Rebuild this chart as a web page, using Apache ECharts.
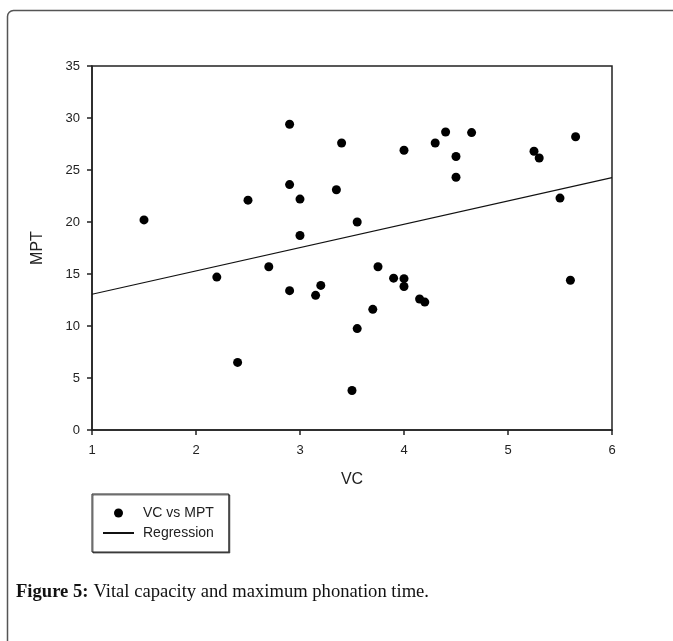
<!DOCTYPE html>
<html><head><meta charset="utf-8">
<script src="https://cdn.jsdelivr.net/npm/echarts@6/dist/echarts.min.js"></script>
<style>html,body{margin:0;padding:0;background:#fff;}#c{width:673px;height:641px;}</style>
</head><body><div id="c"></div>
<script>
const vc  = [1.5, 2.2, 2.4, 2.5, 2.7, 2.9, 2.9, 2.9, 3.0, 3.0, 3.15, 3.2, 3.35, 3.4, 3.5, 3.55, 3.55, 3.7, 3.75, 3.9, 4.0, 4.0, 4.0, 4.15, 4.2, 4.3, 4.4, 4.5, 4.5, 4.65, 5.25, 5.3, 5.5, 5.6, 5.65];
const mpt = [20.2, 14.7, 6.5, 22.1, 15.7, 29.4, 23.6, 13.4, 22.2, 18.7, 12.95, 13.9, 23.1, 27.6, 3.8, 20.0, 9.75, 11.6, 15.7, 14.6, 26.9, 14.55, 13.8, 12.6, 12.3, 27.6, 28.65, 26.3, 24.3, 28.6, 26.8, 26.15, 22.3, 14.4, 28.2];
const regX = [1, 6];
const regY = [13.05, 24.26];
const xTicks = [1, 2, 3, 4, 5, 6];
const yTicks = [0, 5, 10, 15, 20, 25, 30, 35];

const chart = echarts.init(document.getElementById('c'), null, {renderer: 'canvas'});
const sans = 'Liberation Sans, Arial, sans-serif';
const ink = '#222';
chart.setOption({
  animation: false,
  backgroundColor: '#fff',
  graphic: [{
    type: 'rect', z: -1, silent: true,
    shape: {x: 7.5, y: 10.5, width: 800, height: 800, r: 6},
    style: {fill: 'none', stroke: '#555', lineWidth: 1.5}
  }],
  title: {
    left: 11, top: 578,
    text: '{b|Figure 5:} {n|Vital capacity and maximum phonation time.}',
    textStyle: {
      fontWeight: 'normal',
      rich: {
        b: {fontFamily: 'Liberation Serif, serif', fontWeight: 'bold', fontSize: 18.6, color: '#111'},
        n: {fontFamily: 'Liberation Serif, serif', fontWeight: 'normal', fontSize: 18.6, color: '#111'}
      }
    }
  },
  grid: {left: 92, right: 61, top: 66, bottom: 211, show: true, borderColor: ink, borderWidth: 1.5, backgroundColor: 'transparent'},
  xAxis: {
    type: 'value', min: xTicks[0], max: xTicks[xTicks.length - 1], interval: 1,
    name: 'VC', nameLocation: 'middle', nameGap: 42,
    nameTextStyle: {fontFamily: sans, fontSize: 16, color: ink},
    axisLine: {show: true, lineStyle: {color: ink, width: 1.5}},
    axisTick: {show: true, length: 5, lineStyle: {color: ink, width: 1.5}},
    axisLabel: {fontFamily: sans, fontSize: 13, color: ink, margin: 14},
    splitLine: {show: false}
  },
  yAxis: {
    type: 'value', min: yTicks[0], max: yTicks[yTicks.length - 1], interval: 5,
    name: 'MPT', nameLocation: 'middle', nameGap: 46, nameRotate: 90,
    nameTextStyle: {fontFamily: sans, fontSize: 16, color: ink},
    axisLine: {show: true, lineStyle: {color: ink, width: 1.5}},
    axisTick: {show: true, length: 5, lineStyle: {color: ink, width: 1.5}},
    axisLabel: {fontFamily: sans, fontSize: 13, color: ink, margin: 12},
    splitLine: {show: false}
  },
  legend: {
    left: 92, top: 494, orient: 'vertical',
    padding: [12, 15, 12, 10],
    itemWidth: 31, itemHeight: 9, itemGap: 6,
    borderColor: ink, borderWidth: 1,
    shadowColor: 'rgba(0,0,0,0.55)', shadowOffsetX: 1, shadowOffsetY: 1, shadowBlur: 0,
    backgroundColor: '#fff',
    textStyle: {fontFamily: sans, fontSize: 14, color: ink, lineHeight: 14, padding: [0, 0, 0, 4]},
    data: [
      {name: 'VC vs MPT', icon: 'circle', itemStyle: {color: '#000', opacity: 1}},
      {name: 'Regression', itemStyle: {opacity: 0}}
    ]
  },
  series: [
    {
      name: 'VC vs MPT', type: 'scatter', symbol: 'circle', symbolSize: 9,
      itemStyle: {color: '#000', opacity: 1},
      data: vc.map((v, i) => [v, mpt[i]])
    },
    {
      name: 'Regression', type: 'line', symbol: 'none', showSymbol: false,
      lineStyle: {color: '#111', width: 1.2},
      itemStyle: {color: '#111'},
      data: regX.map((v, i) => [v, regY[i]])
    }
  ]
});
</script></body></html>
